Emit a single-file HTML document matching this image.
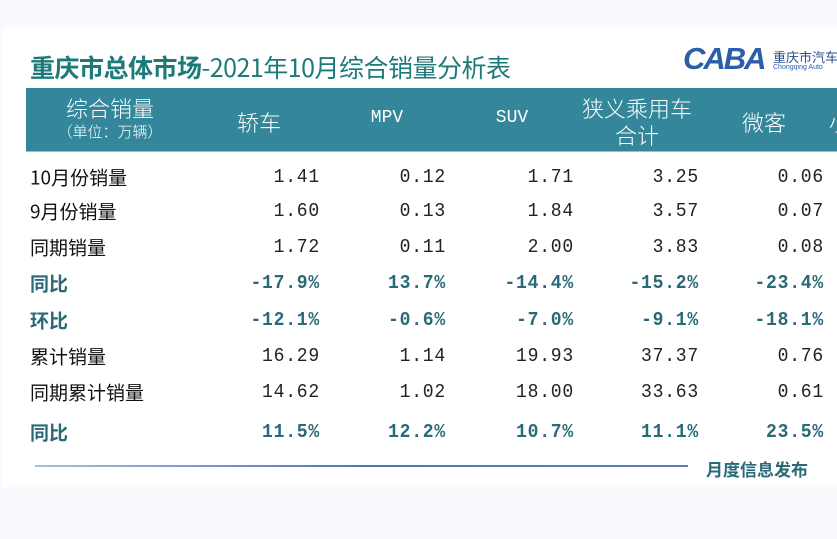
<!DOCTYPE html>
<html><head><meta charset="utf-8"><style>
body{margin:0;width:837px;height:539px;background:#f8fafd;position:relative;overflow:hidden;font-family:"Liberation Sans","Noto Sans CJK SC",sans-serif}
#panel{position:absolute;left:2px;top:28px;width:835px;height:459px;background:#fff}
.t{position:absolute;white-space:nowrap}
#hdr{position:absolute;left:26px;top:88px;width:811px;height:63px;background:#34869a;border-bottom:1px solid #9bbfc8}
.h{position:absolute;color:#fff;font-size:22px;transform:translateX(-50%);white-space:nowrap;font-family:"Noto Sans CJK SC",sans-serif;font-weight:300}
.lab{position:absolute;left:30px;font-size:19px;color:#111;font-family:"Noto Sans CJK SC",sans-serif;transform:translateY(-50%)}
.lab.b{color:#2a6a78;font-weight:bold}
.v{position:absolute;font-family:"Liberation Mono","Noto Sans CJK SC",monospace;font-size:19px;letter-spacing:0.8px;color:#222;transform:translate(-100%,-50%) scaleX(0.95);transform-origin:right center}
.v.b{font-weight:bold;color:#2a6a78}
</style></head><body>
<div id="panel"></div>
<div class="t" style="left:30px;top:49px;font-size:25px;color:#1d7a78;font-family:'Noto Sans CJK SC',sans-serif;letter-spacing:-0.5px"><b>重庆市总体市场</b>-2021年10月综合销量分析表</div>
<div class="t" style="left:683px;top:41px;font-size:31px;font-weight:bold;color:#2a5fa8;font-style:italic;letter-spacing:-2px">CABA</div>
<div class="t" style="left:773px;top:47px;font-size:13px;color:#2a4f8a;font-family:'Noto Sans CJK SC',sans-serif">重庆市汽车</div>
<div class="t" style="left:773px;top:64px;font-size:7px;color:#2a5fa8">Chongqing Auto</div>
<div id="hdr"></div>
<div class="h" style="left:110px;top:92px">综合销量</div>
<div class="h" style="left:110px;top:121px;font-size:15px">（单位：万辆）</div>
<div class="h" style="left:259px;top:106px">轿车</div>
<div class="h" style="left:387px;top:108px;font-family:'Liberation Mono';font-size:18px">MPV</div>
<div class="h" style="left:512px;top:108px;font-family:'Liberation Mono';font-size:18px">SUV</div>
<div class="h" style="left:637px;top:92px">狭义乘用车</div>
<div class="h" style="left:637px;top:119px">合计</div>
<div class="h" style="left:764px;top:106px">微客</div>
<div class="h" style="left:840px;top:106px">小</div>

<div class="lab" style="top:177px">10月份销量</div>
<div class="lab" style="top:211px">9月份销量</div>
<div class="lab" style="top:247px">同期销量</div>
<div class="lab b" style="top:283px">同比</div>
<div class="lab b" style="top:320px">环比</div>
<div class="lab" style="top:356px">累计销量</div>
<div class="lab" style="top:392px">同期累计销量</div>
<div class="lab b" style="top:432px">同比</div>

<div class="v" style="left:320px;top:177px">1.41</div><div class="v" style="left:446px;top:177px">0.12</div><div class="v" style="left:574px;top:177px">1.71</div><div class="v" style="left:699px;top:177px">3.25</div><div class="v" style="left:824px;top:177px">0.06</div>
<div class="v" style="left:320px;top:211px">1.60</div><div class="v" style="left:446px;top:211px">0.13</div><div class="v" style="left:574px;top:211px">1.84</div><div class="v" style="left:699px;top:211px">3.57</div><div class="v" style="left:824px;top:211px">0.07</div>
<div class="v" style="left:320px;top:247px">1.72</div><div class="v" style="left:446px;top:247px">0.11</div><div class="v" style="left:574px;top:247px">2.00</div><div class="v" style="left:699px;top:247px">3.83</div><div class="v" style="left:824px;top:247px">0.08</div>
<div class="v b" style="left:320px;top:283px">-17.9%</div><div class="v b" style="left:446px;top:283px">13.7%</div><div class="v b" style="left:574px;top:283px">-14.4%</div><div class="v b" style="left:699px;top:283px">-15.2%</div><div class="v b" style="left:824px;top:283px">-23.4%</div>
<div class="v b" style="left:320px;top:320px">-12.1%</div><div class="v b" style="left:446px;top:320px">-0.6%</div><div class="v b" style="left:574px;top:320px">-7.0%</div><div class="v b" style="left:699px;top:320px">-9.1%</div><div class="v b" style="left:824px;top:320px">-18.1%</div>
<div class="v" style="left:320px;top:356px">16.29</div><div class="v" style="left:446px;top:356px">1.14</div><div class="v" style="left:574px;top:356px">19.93</div><div class="v" style="left:699px;top:356px">37.37</div><div class="v" style="left:824px;top:356px">0.76</div>
<div class="v" style="left:320px;top:392px">14.62</div><div class="v" style="left:446px;top:392px">1.02</div><div class="v" style="left:574px;top:392px">18.00</div><div class="v" style="left:699px;top:392px">33.63</div><div class="v" style="left:824px;top:392px">0.61</div>
<div class="v b" style="left:320px;top:432px">11.5%</div><div class="v b" style="left:446px;top:432px">12.2%</div><div class="v b" style="left:574px;top:432px">10.7%</div><div class="v b" style="left:699px;top:432px">11.1%</div><div class="v b" style="left:824px;top:432px">23.5%</div>

<div style="position:absolute;left:35px;top:465px;width:653px;height:2px;background:linear-gradient(90deg,#a8bedc,#4d78b8 50%,#5a80bd)"></div>
<div class="t" style="left:706px;top:456px;font-size:17px;font-weight:bold;color:#2a6a78;font-family:'Noto Sans CJK SC',sans-serif">月度信息发布</div>
</body></html>
